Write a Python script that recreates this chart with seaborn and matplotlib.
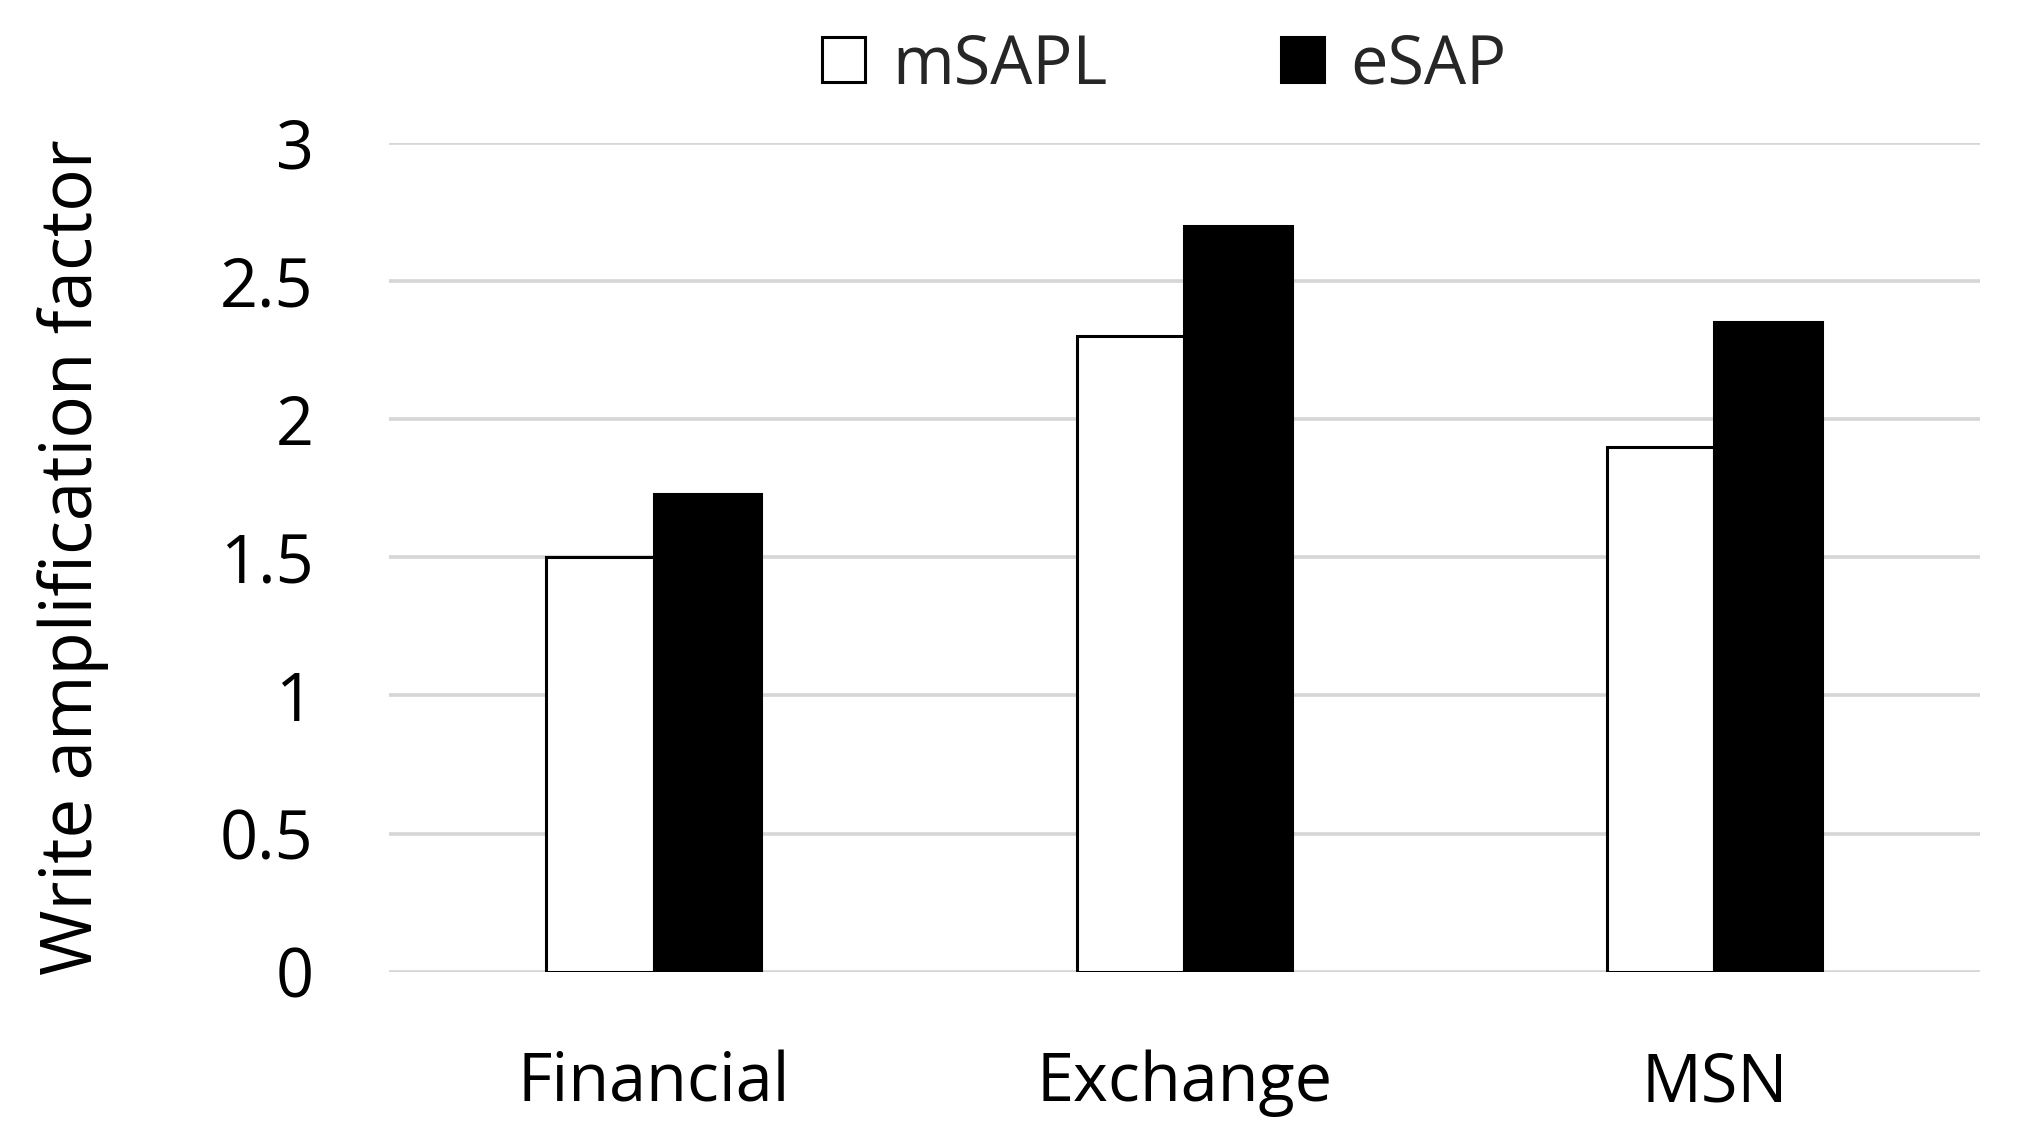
import matplotlib
matplotlib.use("Agg")
import matplotlib.pyplot as plt
from matplotlib.patches import Patch
import seaborn as sns
import pandas as pd

categories = ["Financial", "Exchange", "MSN"]
series_names = ["mSAPL", "eSAP"]
msapl_values = [1.50, 2.30, 1.90]
esap_values = [1.73, 2.70, 2.35]
y_ticks = [0, 0.5, 1, 1.5, 2, 2.5, 3]
y_tick_labels = ["0", "0.5", "1", "1.5", "2", "2.5", "3"]
y_label = "Write amplification factor"

df = pd.DataFrame({
    "category": categories * 2,
    "series": [series_names[0]] * 3 + [series_names[1]] * 3,
    "value": msapl_values + esap_values,
})

sns.set_theme(style="white")
plt.rcParams["font.family"] = ["Open Sans", "DejaVu Sans"]

fig = plt.figure(figsize=(20.18, 11.47), dpi=100)
ax = fig.add_axes([0.1926, 0.1528, 0.981 - 0.1926, 0.8754 - 0.1528])

sns.barplot(data=df, x="category", y="value", hue="series",
            hue_order=series_names, order=categories,
            palette={"mSAPL": "white", "eSAP": "black"},
            edgecolor="black", linewidth=2.2, width=0.405,
            errorbar=None, ax=ax, legend=False, zorder=3)

ax.set_ylim(0, 3)
ax.set_xlim(-0.5, 2.5)
ax.set_yticks(y_ticks)
ax.set_yticklabels(y_tick_labels)
ax.yaxis.grid(True, color="#d6d6d6", linewidth=2.6, zorder=0)
ax.set_axisbelow(True)
for s in ax.spines.values():
    s.set_visible(False)
ax.tick_params(axis="both", length=0, labelsize=48, colors="black")
ax.tick_params(axis="y", pad=54)
ax.tick_params(axis="x", pad=56)
ax.set_xlabel("")
ax.set_ylabel(y_label, fontsize=51, color="black")
ax.yaxis.set_label_coords(-0.176, 0.5)

handles = [Patch(facecolor="white", edgecolor="black", linewidth=2.2),
           Patch(facecolor="black", edgecolor="black", linewidth=2.2)]
fig.legend(handles, series_names, loc="center", bbox_to_anchor=(0.577, 0.943),
           ncol=2, frameon=False, fontsize=48, handlelength=0.65,
           handleheight=0.65, handletextpad=0.4, columnspacing=2.6)

fig.savefig("out.png", dpi=100, facecolor="white")
